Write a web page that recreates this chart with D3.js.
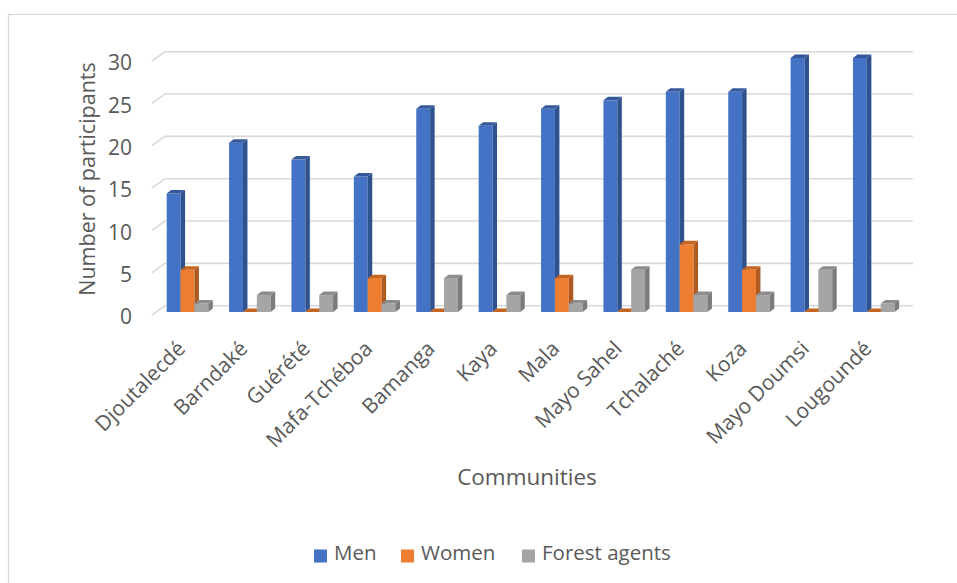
<!DOCTYPE html>
<html>
<head>
<meta charset="utf-8">
<script src="https://cdn.jsdelivr.net/npm/d3@7"></script>
<style>
  html, body { margin: 0; padding: 0; background: #fff; }
  svg { display: block; font-family: "Open Sans", sans-serif; }
</style>
</head>
<body>
<svg id="chart" width="957" height="583"></svg>
<script>
// Participants per community
const communities = ["Djoutalecdé", "Barndaké", "Guérété", "Mafa-Tchéboa", "Bamanga", "Kaya",
  "Mala", "Mayo Sahel", "Tchalaché", "Koza", "Mayo Doumsi", "Lougoundé"];
const men = [14, 20, 18, 16, 24, 22, 24, 25, 26, 26, 30, 30];
const women = [5, 0, 0, 4, 0, 0, 4, 0, 8, 5, 0, 0];
const forestAgents = [1, 2, 2, 1, 4, 2, 1, 5, 2, 2, 5, 1];
const seriesNames = ["Men", "Women", "Forest agents"];
const yTicks = [0, 5, 10, 15, 20, 25, 30];

const palette = {
  "Men": { front: "#4472C4", side: "#2F528F", top: "#35599A" },
  "Women": { front: "#ED7D31", side: "#AE5A21", top: "#C4641F" },
  "Forest agents": { front: "#A5A5A5", side: "#7B7B7B", top: "#8C8C8C" }
};
const textColor = "#595959";
const gridColor = "#D9D9D9";

const svg = d3.select("#chart");

// chart area border
svg.append("rect")
  .attr("x", 8.5).attr("y", 14.5)
  .attr("width", 1200).attr("height", 1200)
  .attr("fill", "none").attr("stroke", gridColor).attr("stroke-width", 1.3);

const series = seriesNames.map((name, k) => ({
  name, values: [men, women, forestAgents][k]
}));

// scales: bar faces, back wall and front (label) planes
const x = d3.scaleBand().domain(communities).range([156.3, 905])
  .paddingInner(1 / 3).paddingOuter(1 / 6);
const xs = d3.scaleBand().domain(seriesNames).range([0, x.bandwidth()]);
const yBar = d3.scaleLinear().domain([0, 30]).range([312, 58]);
const yBack = d3.scaleLinear().domain([0, 30]).range([305.7, 51.7]);
const yFront = d3.scaleLinear().domain([0, 30]).range([315, 61]);

const wallLeft = 165, wallRight = 913, floorLeft = 152;

// gridlines on the back wall with the receding left edge
const grid = svg.append("g");
yTicks.forEach(t => {
  grid.append("path")
    .attr("d", `M${floorLeft},${yFront(t)}L${wallLeft},${yBack(t)}H${wallRight}`)
    .attr("fill", "none").attr("stroke", gridColor).attr("stroke-width", 1.6);
});

// y tick labels
svg.append("g").selectAll("text").data(yTicks).join("text")
  .attr("x", 132).attr("y", d => yFront(d) + 1.7 + 7.5)
  .attr("text-anchor", "end").attr("fill", textColor)
  .attr("font-size", 21).text(d => d);

// 3D columns
const dx = 4.5, dy = -3.5;
const bw = xs.bandwidth();
const base = yBar(0);
const barsG = svg.append("g");
communities.forEach((c, i) => {
  series.forEach(s => {
    const v = s.values[i];
    const x0 = x(c) + xs(s.name);
    const yt = yBar(v);
    const col = palette[s.name];
    const g = barsG.append("g");
    if (v > 0) {
      g.append("rect").attr("x", x0).attr("y", yt)
        .attr("width", bw).attr("height", base - yt).attr("fill", col.front);
      g.append("path")
        .attr("d", `M${x0 + bw},${yt}L${x0 + bw + dx},${yt + dy}L${x0 + bw + dx},${base + dy}L${x0 + bw},${base}Z`)
        .attr("fill", col.side);
    }
    g.append("path")
      .attr("d", `M${x0},${yt}L${x0 + dx},${yt + dy}L${x0 + bw + dx},${yt + dy}L${x0 + bw},${yt}Z`)
      .attr("fill", col.top);
  });
});

// category labels
svg.append("g").selectAll("text").data(communities).join("text")
  .attr("transform", d => `translate(${x(d) + x.bandwidth() / 2 - 1},${350}) rotate(-45)`)
  .attr("text-anchor", "end").attr("fill", textColor)
  .attr("font-size", 21).text(d => d);

// axis titles
svg.append("text")
  .attr("transform", "translate(95,179) rotate(-90)")
  .attr("text-anchor", "middle").attr("fill", textColor)
  .attr("font-size", 21.5).text("Number of participants");
svg.append("text")
  .attr("x", 527).attr("y", 484.5)
  .attr("text-anchor", "middle").attr("fill", textColor)
  .attr("font-size", 22.5).text("Communities");

// legend
const legendItems = [
  { name: "Men", sx: 314, tx: 334 },
  { name: "Women", sx: 401, tx: 421 },
  { name: "Forest agents", sx: 522, tx: 542 }
];
const lg = svg.append("g");
legendItems.forEach(item => {
  lg.append("rect").attr("x", item.sx).attr("y", 549.5)
    .attr("width", 13).attr("height", 13).attr("fill", palette[item.name].front);
  lg.append("text").attr("x", item.tx).attr("y", 559.5)
    .attr("fill", textColor).attr("font-size", 20.5).text(item.name);
});
</script>
</body>
</html>
